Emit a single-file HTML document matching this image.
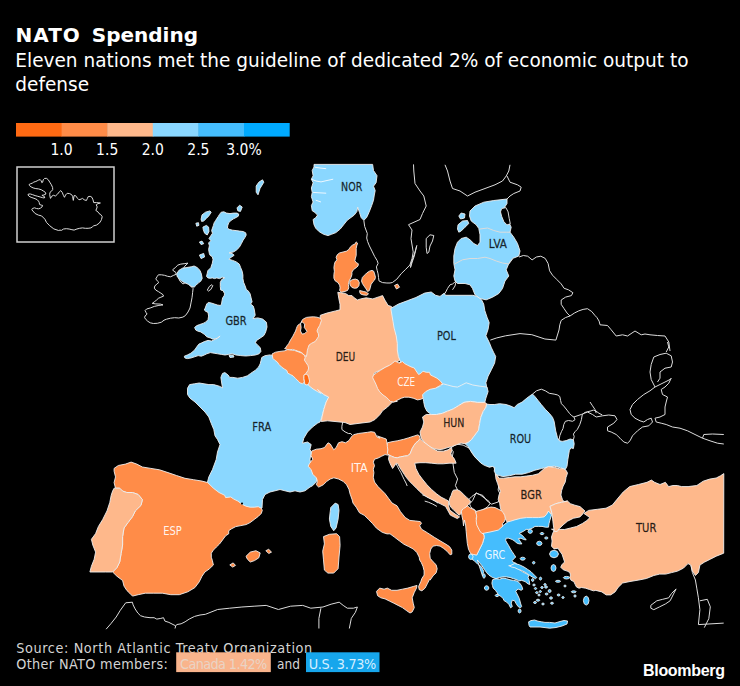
<!DOCTYPE html>
<html><head><meta charset="utf-8"><style>
html,body{margin:0;padding:0;background:#000;}
body{width:740px;height:686px;position:relative;overflow:hidden;}
svg{position:absolute;left:0;top:0;}
.o{fill:none;stroke:#dcdcdc;stroke-width:1;stroke-linejoin:round;}
.c{stroke:#efefef;stroke-width:0.9;stroke-linejoin:round;}
.lab{font-family:"DejaVu Sans Condensed","DejaVu Sans",sans-serif;font-size:11.6px;}
.ld{fill:#000;fill-opacity:0.8;stroke:#000;stroke-opacity:0.6;stroke-width:0.35px;}
.lw{fill:#fff;fill-opacity:0.92;}
.ttl{font-family:"DejaVu Sans",sans-serif;font-weight:bold;font-size:20px;fill:#fff;word-spacing:4px;}
.sub{font-family:"DejaVu Sans",sans-serif;font-size:19.5px;fill:#fff;}
.leg{font-family:"DejaVu Sans Condensed","DejaVu Sans",sans-serif;font-size:15.5px;fill:#fff;}
.src{font-family:"DejaVu Sans Condensed","DejaVu Sans",sans-serif;font-size:14.3px;fill:#d4d4d4;}
.bb{font-family:"Liberation Sans",sans-serif;font-weight:bold;font-size:16px;fill:#fff;letter-spacing:-0.3px;}
</style></head><body>
<svg width="740" height="686" viewBox="0 0 740 686">
<text class="ttl" x="15.5" y="42.4"><tspan letter-spacing="1px">NATO</tspan> Spending</text>
<text class="sub" transform="translate(15.3,66.9) scale(0.95,1)">Eleven nations met the guideline of dedicated 2% of economic output to</text>
<text class="sub" transform="translate(15.3,90.8) scale(0.95,1)">defense</text>
<rect x="16" y="123" width="46.1" height="13.6" fill="#ff6a13"/>
<rect x="61.6" y="123" width="46.1" height="13.6" fill="#ff8c48"/>
<rect x="107.2" y="123" width="46.1" height="13.6" fill="#feb88b"/>
<rect x="152.8" y="123" width="46.1" height="13.6" fill="#8ad7ff"/>
<rect x="198.4" y="123" width="46.1" height="13.6" fill="#45bdfd"/>
<rect x="244" y="123" width="45.7" height="13.6" fill="#00aaff"/>
<text class="leg" x="61.6" y="155" text-anchor="middle">1.0</text>
<text class="leg" x="107.2" y="155" text-anchor="middle">1.5</text>
<text class="leg" x="152.8" y="155" text-anchor="middle">2.0</text>
<text class="leg" x="198.4" y="155" text-anchor="middle">2.5</text>
<text class="leg" x="244" y="155" text-anchor="middle">3.0%</text>
<rect x="17" y="167" width="97" height="75" fill="none" stroke="#cfcfcf" stroke-width="1.5"/>
<path d="M31.8,209.8 L32.4,208.5 L34.5,207.8 L36.5,208.5 L38.5,208.8 L40.5,208.1 L41.9,207.1 L42.6,205.4 L41.2,205.1 L39.5,204.4 L39.2,202.4 L38.5,201.1 L37.2,199.7 L35.1,198.7 L33.1,198.0 L31.1,197.3 L29.1,196.3 L28.0,195.0 L28.4,194.0 L30.4,194.0 L32.4,194.6 L35.1,195.6 L37.8,196.3 L40.2,197.0 L42.6,197.7 L44.3,198.0 L44.9,197.0 L43.2,196.0 L41.9,195.3 L43.9,195.0 L45.9,194.0 L45.3,192.3 L43.2,190.9 L41.2,189.7 L38.5,188.9 L35.8,188.6 L33.1,187.9 L31.1,186.9 L29.4,185.5 L29.1,184.5 L30.4,183.8 L32.4,183.1 L33.8,182.1 L35.8,181.5 L37.2,180.8 L38.5,180.1 L40.2,179.6 L41.2,180.8 L41.9,182.8 L42.7,182.1 L43.2,179.8 L44.6,178.4 L46.6,178.4 L48.3,179.8 L49.7,182.1 L51.4,184.8 L52.6,187.5 L52.7,189.6 L51.4,191.3 L50.0,192.3 L49.7,194.3 L50.1,197.0 L50.5,198.4 L51.7,196.3 L53.4,195.3 L55.4,196.0 L57.4,194.3 L59.5,191.6 L60.8,190.6 L62.2,192.3 L63.5,195.6 L64.5,197.3 L65.5,195.0 L67.2,193.3 L69.6,193.6 L71.6,194.6 L72.6,196.3 L73.3,200.4 L74.1,195.6 L75.5,195.6 L77.6,198.4 L79.0,199.8 L81.1,199.1 L82.5,198.4 L84.2,199.8 L86.4,200.5 L87.4,198.4 L88.1,196.7 L90.2,196.3 L92.0,197.4 L93.0,199.8 L93.7,202.6 L96.5,202.6 L100.4,203.0 L97.9,203.7 L96.2,204.8 L97.2,206.9 L96.5,209.0 L95.8,210.4 L97.9,211.8 L99.0,213.5 L100.8,214.6 L102.2,216.7 L101.5,219.5 L100.8,220.9 L99.4,223.0 L96.5,225.1 L93.7,225.8 L92.3,226.9 L90.9,227.9 L88.1,228.3 L85.3,228.3 L82.5,227.9 L79.7,228.3 L76.9,229.0 L74.1,230.1 L71.9,229.7 L69.1,229.0 L66.3,228.7 L63.5,229.0 L61.4,230.4 L60.0,230.1 L58.6,230.5 L53.8,228.9 L49.7,225.7 L46.5,222.4 L44.9,219.2 L41.6,215.9 L38.4,215.1 L35.1,213.5Z" class="o"/>
<path d="M188.0,263.1 L184.9,263.6 L180.8,264.1 L177.8,265.1 L175.2,267.7 L172.7,269.7 L173.7,271.2 L175.7,272.2 L176.2,274.3 L173.7,275.3 L170.6,276.8 L167.6,276.3 L164.5,275.3 L161.4,274.8 L158.4,274.8 L157.3,276.3 L155.8,278.9 L157.3,280.9 L158.9,282.4 L156.8,284.0 L154.8,286.0 L154.3,288.1 L155.8,290.1 L158.4,291.6 L160.9,293.2 L163.0,294.7 L163.5,296.2 L160.9,297.2 L158.4,298.3 L156.3,300.3 L154.3,301.8 L152.2,303.4 L155.8,303.9 L160.4,304.1 L163.0,304.9 L158.9,305.4 L154.3,306.4 L150.2,308.0 L146.6,309.0 L145.1,310.5 L146.1,312.6 L147.1,314.1 L145.1,315.9 L144.6,317.7 L146.1,319.7 L147.7,321.2 L150.2,322.8 L153.3,323.5 L157.3,323.3 L161.4,322.2 L164.0,320.2 L166.5,319.2 L170.6,318.2 L174.7,317.7 L178.8,318.0 L182.9,317.1 L185.4,315.6 L188.0,312.0 L190.0,308.0 L191.0,302.9 L192.0,297.8 L192.6,292.7 L193.1,288.6 L190.0,285.5 L186.9,281.9 L182.9,284.0 L179.8,280.9 L178.3,277.3 L178.0,274.3 L179.8,271.7 L182.9,269.2 L184.9,266.1Z" class="o"/>
<path d="M207.3,290.1 L209.4,286.4 L211.9,284.7 L212.8,285.7 L210.9,289.4 L208.4,291.1Z" class="o"/>
<path d="M650.8,605.3 L656.8,600.8 L662.7,599.3 L668.7,597.8 L671.6,593.4 L676.1,588.9 L673.1,594.9 L670.1,600.8 L665.7,603.8 L659.7,606.8 L653.8,609.7 L650.8,608.2Z" class="o"/>
<path d="M450.0,448.4 L456.5,444.1 L463.1,445.1 L469.7,448.4 L471.8,452.8 L476.2,458.3 L480.6,462.6 L485.0,463.7 L489.3,467.0 L493.7,465.9 L494.8,470.3 L498.1,476.9 L499.2,483.4 L498.1,490.0 L501.4,496.5 L498.1,502.0 L491.5,504.2 L487.1,500.9 L482.8,495.4 L476.2,493.3 L471.8,496.5 L467.5,500.9 L463.1,498.7 L458.7,492.2 L455.4,485.6 L457.6,479.0 L454.3,472.5 L453.3,465.9 L452.2,457.2 L453.3,451.7Z" class="o"/>
<path d="M469.6,504.0 L472.7,500.4 L476.2,492.8 L480.8,495.3 L484.9,498.4 L489.0,501.4 L490.0,503.5 L488.0,506.5 L484.9,508.6 L480.8,510.6 L477.8,512.7 L475.7,510.6 L472.7,508.6 L470.6,506.5Z" class="o"/>
<path d="M363.8,220.3 L364.7,226.5 L367.3,233.5 L366.7,238.0 L367.6,241.5 L369.4,245.9 L372.0,251.1 L374.6,256.4 L377.2,260.7 L378.1,263.4 L376.4,266.9 L377.2,270.4 L378.1,273.9 L378.5,277.4 L379.0,280.9 L382.5,282.6 L386.9,283.0 L390.0,283.0 L392.4,282.5 L396.8,279.2 L401.2,273.7 L405.6,269.4 L409.9,265.0 L412.1,258.4 L413.2,251.9 L411.0,238.7 L412.0,230.0 L408.5,224.7 L420.0,219.5 L422.5,213.5 L426.2,206.0 L423.8,196.0 L420.0,191.0 L415.0,183.5 L413.8,171.0 L413.5,164.4" class="o"/>
<path d="M426.2,238.5 L430.0,234.8 L433.8,235.5 L432.5,241.0 L430.0,246.0 L428.8,252.2 L427.0,253.5 L426.2,247.2 L426.2,238.5" class="o"/>
<path d="M416.8,245.5 L415.0,252.0 L413.0,258.0 L411.0,264.0 L410.5,267.5 L412.2,262.0 L414.3,256.0 L416.8,245.5" class="o"/>
<path d="M445.0,164.8 L447.5,171.0 L450.0,181.0 L452.5,188.5 L460.0,191.0 L467.5,196.0 L475.0,192.2 L485.0,188.5 L495.0,184.8 L502.5,181.0 L506.2,176.0 L508.8,171.0 L510.0,164.8" class="o"/>
<path d="M507.0,176.0 L510.0,182.2 L517.5,184.8 L521.2,187.2 L520.0,191.0 L513.8,193.5 L510.0,196.0 L507.0,199.0" class="o"/>
<path d="M445.0,293.5 L447.5,288.5 L450.0,284.8 L452.5,284.0 L456.2,281.0 L455.0,286.0 L452.5,289.8" class="o"/>
<path d="M519.0,257.0 L523.3,255.5 L527.7,256.2 L532.1,259.9 L536.4,257.0 L540.8,256.2 L545.2,258.4 L548.1,263.5 L549.6,270.8 L552.5,275.2 L556.9,279.6 L561.2,283.9 L564.1,288.3 L568.5,289.8 L572.9,292.7 L571.4,295.6 L565.6,297.1 L561.2,300.0 L561.2,304.3 L564.1,308.7 L567.1,313.1 L570.0,316.0 L574.3,313.1 L578.7,310.9 L583.1,309.4 L587.5,308.7 L591.8,311.6 L594.8,315.3 L596.9,317.5 L599.1,321.1 L600.0,324.8 L607.5,325.5 L611.2,329.8 L616.2,336.0 L622.5,334.8 L627.5,336.0 L635.0,331.0 L641.2,334.8 L645.0,334.0 L650.0,334.8 L657.5,335.5 L665.0,336.0 L668.8,342.0 L670.0,351.0" class="o"/>
<path d="M490.3,340.1 L496.8,337.9 L505.6,335.8 L520.0,333.6 L531.8,334.7 L544.9,339.0 L555.9,340.1 L559.0,330.0 L559.8,324.8 L561.2,320.4 L565.6,317.5 L570.0,316.0" class="o"/>
<path d="M532.5,394.1 L536.5,390.8 L541.3,389.2 L545.3,390.8 L549.3,393.3 L554.1,394.1 L557.4,394.9 L559.8,396.5 L560.6,400.5 L561.4,403.7 L563.8,406.1 L567.0,410.1 L569.4,413.3 L571.8,415.7 L574.2,417.3 L575.0,419.7 L572.6,421.3 L568.6,420.5 L565.4,421.3 L563.8,424.5 L563.0,428.5 L561.4,431.7 L559.8,435.7 L559.0,440.6" class="o"/>
<path d="M573.4,439.8 L574.2,436.5 L573.4,434.1 L575.0,431.7 L577.4,429.3 L579.8,424.5 L581.4,419.7 L582.2,414.9 L584.6,412.5 L587.8,411.7 L591.0,410.9 L593.4,410.1 L595.8,410.9 L599.0,413.3 L602.3,414.9" class="o"/>
<path d="M573.8,417.0 L581.2,414.5 L587.5,412.0 L592.5,414.5 L596.2,417.0 L602.5,415.8 L608.8,415.0 L615.0,415.8 L617.0,419.5 L613.8,423.2 L607.5,427.0 L607.5,430.8 L611.2,432.0 L616.2,434.5 L620.0,438.2 L623.8,442.0 L627.5,443.2 L630.0,440.8 L632.5,435.8 L637.5,430.8 L642.5,427.0 L648.8,425.8 L652.5,422.0 L651.2,418.2 L647.5,419.5 L643.8,422.0 L640.0,420.8 L635.0,418.2 L631.2,414.5 L630.0,409.5 L632.5,404.5 L637.5,399.5 L643.8,394.5 L650.0,390.8 L655.0,387.0 L660.0,384.5 L665.0,382.0 L670.0,379.5 L671.2,378.2 L668.8,383.2 L665.0,387.0 L661.2,389.5 L662.5,394.5 L667.5,397.0 L666.2,402.0 L665.0,407.0 L665.0,414.5 L660.0,417.0 L655.0,418.2 L656.2,422.0 L661.2,423.2 L666.2,424.5 L672.5,427.0 L680.0,428.2 L687.5,430.8 L695.0,434.5 L702.5,438.2 L710.0,440.8 L717.5,443.2 L723.8,444.0" class="o"/>
<path d="M655.0,387.0 L651.2,379.5 L650.0,372.0 L651.2,364.5 L653.8,357.0 L660.0,354.5 L666.2,353.2 L671.2,355.8 L672.5,362.0 L671.2,367.0 L665.0,368.2 L660.0,372.0 L660.0,378.2 L657.5,382.0" class="o"/>
<path d="M667.5,342.0 L668.8,347.0 L666.2,352.0" class="o"/>
<path d="M702.5,438.2 L703.8,434.5 L712.5,434.0 L723.8,434.5" class="o"/>
<path d="M590.0,402.0 L592.5,405.8 L595.0,409.5 L596.2,413.2" class="o"/>
<path d="M106.1,629.2 L110.8,623.8 L116.2,617.0 L120.3,610.3 L125.7,602.8 L132.4,602.2 L133.1,604.9 L135.1,608.9 L137.8,613.0 L140.5,615.7 L144.6,617.0 L150.0,617.7 L154.1,617.7 L156.8,619.1 L160.8,618.4 L163.5,617.7 L164.9,621.1 L168.9,622.4 L173.0,624.5 L175.7,625.8 L177.0,624.5 L181.1,623.8 L185.1,621.8 L189.2,619.1 L194.6,616.4 L200.0,615.0 L205.4,614.3 L217.6,609.5 L229.7,608.2 L241.9,607.0 L254.1,606.2 L266.2,605.4 L278.4,609.5 L290.5,606.2 L302.7,605.4 L310.8,608.2 L323.0,607.0 L331.1,604.2 L339.2,602.2 L343.2,605.4 L347.3,608.2 L353.4,608.2 L357.4,607.0 L355.4,612.3 L351.3,618.4 L349.3,628.5" class="o"/>
<path d="M175.7,625.8 L175.0,628.5" class="o"/>
<path d="M320.9,608.2 L318.9,618.4 L318.9,628.5" class="o"/>
<path d="M690.9,565.1 L692.4,572.6 L695.4,580.0 L696.9,588.9 L698.4,597.8 L699.9,609.7 L698.4,624.6 L723.7,623.1" class="o"/>
<path d="M699.9,600.8 L707.3,599.3 L710.3,606.8 L708.8,618.7 L704.3,627.6" class="o"/>
<path d="M339.5,419.7 L342.7,422.2 L341.9,426.2 L341.9,429.5 L345.1,431.9 L348.4,433.5 L350.8,433.5 L352.0,435.1" class="o"/>
<path d="M396.1,463.8 L397.6,466.7 L399.2,469.7 L400.9,472.6 L402.5,476.1 L404.2,479.6 L406.0,483.1 L407.2,486.0" class="o"/>
<path d="M422.3,494.8 L425.8,496.2 L429.9,498.0 L434.0,500.3 L438.1,503.2" class="o"/>
<path d="M424.7,501.1 L428.7,502.3 L432.8,504.1 L436.9,506.4" class="o"/>
<path d="M314.0,164.4 L372.6,164.4 L373.5,170.5 L377.0,175.7 L376.1,182.7 L373.5,186.2 L375.2,190.6 L374.3,195.0 L373.5,200.2 L371.7,205.5 L370.0,209.9 L368.2,214.2 L366.5,217.7 L363.8,220.3 L361.2,217.7 L359.5,212.5 L357.7,207.2 L356.9,211.6 L354.2,215.1 L350.7,217.7 L347.2,220.3 L343.7,224.7 L340.2,229.1 L335.9,232.6 L331.5,234.3 L328.0,235.6 L323.6,234.3 L319.2,231.7 L315.7,228.2 L314.0,224.7 L313.1,219.5 L315.7,217.7 L317.5,215.1 L314.9,212.5 L312.2,210.7 L311.4,205.5 L313.1,202.0 L311.4,196.7 L312.2,192.4 L311.4,188.0 L313.1,182.7 L311.4,179.2 L313.1,175.7 L312.2,170.5 L314.0,167.0Z" fill="#8ad7ff" class="c"/>
<path d="M219.5,214.4 L221.2,212.2 L223.9,211.8 L226.5,213.1 L230.0,213.6 L233.5,213.1 L237.0,213.1 L238.7,214.0 L238.3,216.2 L236.1,217.5 L233.5,218.8 L230.9,220.6 L228.7,222.7 L227.8,225.4 L227.4,228.0 L229.1,229.3 L232.6,230.2 L236.1,230.6 L239.6,231.1 L243.1,231.5 L245.7,232.8 L246.2,235.0 L244.9,237.6 L243.1,240.2 L241.4,243.6 L239.3,247.3 L236.3,250.2 L233.4,252.0 L229.1,252.8 L232.7,253.8 L234.2,255.3 L229.8,258.2 L229.1,259.3 L232.7,260.4 L236.3,261.9 L239.3,264.1 L240.7,267.7 L242.2,271.3 L242.9,275.0 L242.9,278.6 L243.6,282.3 L245.1,285.9 L246.5,290.0 L248.1,290.7 L250.1,293.8 L251.1,297.9 L252.1,301.9 L250.6,304.0 L253.2,306.0 L254.2,309.1 L254.7,312.1 L255.2,315.2 L253.0,318.5 L257.8,317.9 L262.7,319.1 L266.4,322.2 L267.0,327.0 L265.7,331.9 L263.9,335.5 L260.3,338.0 L256.6,340.4 L255.4,342.8 L257.8,345.3 L260.3,347.7 L260.9,351.4 L259.1,353.8 L255.4,355.0 L250.5,355.6 L245.7,356.0 L240.8,355.6 L235.9,355.0 L232.3,353.8 L228.6,354.4 L225.0,355.0 L221.4,354.4 L217.7,353.8 L214.1,353.2 L210.4,352.6 L206.8,353.8 L204.3,355.0 L201.3,356.2 L198.2,355.6 L194.6,356.8 L190.9,358.0 L187.3,358.6 L184.9,358.0 L184.3,356.2 L187.3,355.0 L190.9,353.2 L194.6,350.1 L197.0,346.5 L198.9,344.1 L201.9,342.8 L204.3,341.6 L208.0,340.4 L211.6,341.0 L215.3,339.2 L217.7,338.0 L220.1,336.1 L216.5,338.6 L212.8,339.2 L210.4,338.0 L206.8,336.8 L204.3,334.3 L200.7,331.9 L198.2,331.3 L195.8,330.1 L194.6,327.6 L196.4,325.8 L199.5,324.6 L203.1,323.4 L205.5,322.2 L208.0,319.7 L208.6,316.1 L208.0,312.4 L205.5,311.2 L204.3,310.0 L205.2,308.1 L206.7,304.0 L208.3,302.4 L211.3,303.0 L214.4,304.0 L217.4,305.0 L220.5,305.5 L221.5,304.0 L222.0,300.9 L222.6,297.9 L224.1,295.8 L224.6,293.8 L223.1,290.7 L220.7,290.0 L220.3,286.6 L220.3,282.3 L221.8,279.4 L224.7,277.9 L222.5,277.2 L219.6,278.6 L216.7,277.9 L214.5,278.6 L212.3,277.9 L210.1,278.3 L207.9,277.9 L206.5,276.4 L207.2,273.5 L207.9,270.6 L210.8,267.7 L212.3,263.3 L213.0,259.7 L212.3,256.8 L210.1,255.3 L209.4,253.8 L208.6,249.5 L209.4,245.8 L208.6,242.9 L210.8,240.7 L209.0,238.5 L210.7,235.9 L212.5,233.2 L211.6,230.6 L212.5,228.0 L213.4,225.4 L214.2,222.7 L215.6,220.6 L216.9,218.4 L218.2,216.6Z" fill="#8ad7ff" class="c"/>
<path d="M176.6,274.1 L178.8,270.4 L182.5,268.2 L186.9,267.5 L191.2,266.8 L194.1,266.0 L197.1,267.5 L200.0,270.4 L201.4,274.1 L202.2,278.4 L200.7,281.3 L198.5,282.8 L196.3,285.0 L194.1,287.2 L191.2,286.4 L188.3,284.3 L184.7,282.8 L181.7,281.3 L179.6,279.2 L177.4,277.0Z" fill="#8ad7ff" class="c"/>
<path d="M202.0,214.9 L205.5,212.2 L209.9,210.9 L211.2,212.2 L209.0,215.7 L206.4,218.4 L203.7,221.0 L201.6,221.4 L201.1,219.2Z" fill="#8ad7ff" class="c"/>
<path d="M195.9,223.2 L198.5,222.7 L198.9,225.4 L196.7,226.2Z" fill="#8ad7ff" class="c"/>
<path d="M202.9,227.1 L206.4,225.4 L208.6,227.1 L209.0,231.5 L207.2,235.0 L204.6,233.2 L203.3,229.7Z" fill="#8ad7ff" class="c"/>
<path d="M199.4,242.0 L202.0,241.1 L203.7,243.7 L201.1,244.6Z" fill="#8ad7ff" class="c"/>
<path d="M199.4,255.1 L203.7,253.4 L204.6,256.9 L201.1,258.6Z" fill="#8ad7ff" class="c"/>
<path d="M237.0,207.9 L239.6,205.2 L242.2,207.0 L240.5,211.4 L237.9,210.9Z" fill="#8ad7ff" class="c"/>
<path d="M256.2,186.0 L258.8,182.2 L262.5,179.8 L263.8,182.2 L260.0,188.5 L258.0,194.8 L256.2,192.2Z" fill="#8ad7ff" class="c"/>
<path d="M229.0,355.5 L233.0,355.0 L234.0,357.0 L230.0,357.5Z" fill="#8ad7ff" class="c"/>
<path d="M187.5,394.5 L187.5,388.2 L189.6,384.6 L194.4,383.8 L199.2,383.0 L204.1,383.8 L208.9,384.6 L213.7,384.6 L219.3,386.2 L222.5,387.8 L221.7,383.0 L220.9,377.4 L222.5,373.4 L224.9,372.6 L228.1,375.0 L229.7,377.4 L232.9,377.4 L237.7,378.2 L242.5,377.4 L247.4,375.8 L250.6,373.4 L255.4,370.2 L258.6,367.0 L260.2,363.8 L261.0,360.6 L261.8,357.4 L265.0,355.7 L269.8,354.9 L273.0,355.7 L275.0,355.8 L278.8,359.5 L283.8,364.5 L287.5,368.2 L292.5,370.8 L297.5,374.5 L302.5,378.2 L305.0,384.5 L311.2,385.0 L317.5,389.5 L323.8,394.5 L328.8,397.0 L326.2,402.0 L323.8,409.5 L322.0,417.0 L320.0,422.0 L317.5,423.2 L312.5,427.0 L307.5,432.0 L303.8,438.2 L302.5,443.2 L307.5,442.0 L311.2,444.5 L310.0,449.5 L311.2,452.0 L310.0,459.5 L311.2,467.0 L315.0,472.0 L317.5,477.0 L316.2,482.0 L312.5,485.8 L310.0,487.0 L305.0,490.8 L300.0,492.0 L295.0,490.8 L290.0,492.0 L285.0,490.8 L280.0,489.5 L275.0,490.8 L270.0,492.0 L265.0,494.5 L262.5,499.5 L262.0,508.0 L258.0,509.5 L254.0,509.5 L250.0,509.0 L246.0,508.5 L242.0,506.5 L238.0,503.5 L234.0,501.5 L230.0,499.5 L225.5,499.5 L221.0,498.5 L216.0,497.0 L212.0,494.0 L208.0,488.0 L207.5,482.0 L208.8,477.0 L212.5,469.5 L216.2,459.5 L217.5,452.0 L220.0,444.5 L217.5,439.5 L215.0,435.8 L213.8,429.5 L211.2,423.2 L208.8,417.0 L205.0,412.0 L200.0,407.0 L195.0,402.0 L190.0,398.2Z" fill="#8ad7ff" class="c"/>
<path d="M330.8,507.5 L335.2,503.1 L338.1,504.5 L339.0,510.4 L338.1,519.1 L336.1,527.9 L333.7,530.8 L330.8,526.4 L329.4,519.1 L330.2,511.8Z" fill="#8ad7ff" class="c"/>
<path d="M114.1,468.4 L118.3,465.5 L125.4,464.1 L131.1,462.1 L136.8,464.1 L142.4,467.0 L150.9,468.4 L159.5,469.8 L168.0,472.6 L176.5,475.5 L185.0,478.3 L193.5,479.7 L202.0,481.1 L207.7,482.6 L213.4,488.2 L219.0,492.5 L224.7,495.3 L225.6,497.6 L230.7,497.0 L233.8,499.1 L237.9,501.1 L241.9,504.2 L246.0,506.2 L250.1,507.2 L254.2,507.2 L258.3,506.7 L261.3,508.3 L262.3,510.3 L261.3,513.4 L258.3,516.4 L254.2,519.5 L250.1,522.6 L246.0,524.6 L240.9,525.6 L235.8,526.6 L231.7,528.7 L228.7,530.7 L228.7,533.8 L225.6,535.8 L222.6,539.9 L219.5,544.0 L216.4,547.0 L213.4,550.1 L211.3,553.2 L211.3,557.2 L212.3,560.3 L213.4,565.0 L209.1,569.1 L204.9,572.0 L202.0,576.2 L199.2,581.9 L194.9,587.6 L187.8,591.8 L179.3,594.7 L170.8,594.7 L162.3,593.2 L153.8,593.2 L145.3,593.2 L138.2,594.7 L132.5,596.1 L129.7,593.2 L126.8,590.4 L124.0,586.1 L122.6,580.5 L116.9,576.2 L112.6,572.0 L116.9,567.7 L119.7,562.0 L121.1,553.5 L122.6,545.0 L122.6,536.5 L124.0,528.0 L128.2,522.3 L132.5,516.6 L135.3,510.9 L141.0,505.3 L142.4,499.6 L138.2,494.5 L132.5,492.5 L126.8,492.5 L122.6,491.1 L119.7,488.2 L115.5,488.2 L114.1,482.6 L115.5,476.9 L114.1,471.2Z" fill="#ff8c48" class="c"/>
<path d="M246.0,556.3 L250.3,552.1 L255.9,550.7 L260.2,552.9 L258.8,557.8 L254.5,560.6 L250.3,562.0 L247.4,559.2Z" fill="#ff8c48" class="c"/>
<path d="M265.9,550.7 L268.7,549.3 L271.5,552.1 L268.7,553.5Z" fill="#ff8c48" class="c"/>
<path d="M229.8,564.9 L233.2,562.9 L235.5,565.4 L232.7,567.1Z" fill="#ff8c48" class="c"/>
<path d="M114.1,488.2 L119.7,488.2 L122.6,491.1 L126.8,492.5 L132.5,492.5 L138.2,494.5 L142.4,499.6 L141.0,505.3 L135.3,510.9 L132.5,516.6 L128.2,522.3 L124.0,528.0 L122.6,536.5 L122.6,545.0 L121.1,553.5 L119.7,562.0 L116.9,567.7 L112.6,572.0 L105.5,572.0 L97.0,572.0 L89.9,572.0 L91.4,566.3 L94.2,559.2 L95.6,552.1 L92.8,545.0 L91.4,539.3 L95.6,533.6 L98.4,526.5 L102.7,519.5 L107.0,510.9 L109.8,502.4 L111.2,495.3 L112.6,491.1Z" fill="#feb88b" class="c"/>
<path d="M311.7,451.0 L316.3,449.2 L321.0,448.7 L324.5,447.5 L328.0,442.8 L330.3,444.0 L333.8,449.8 L336.2,447.5 L338.5,442.8 L342.0,441.7 L345.5,442.8 L349.0,440.5 L351.3,437.0 L353.6,434.7 L358.3,433.5 L363.0,432.9 L367.6,432.3 L371.1,431.7 L374.6,432.3 L377.0,437.0 L380.0,438.2 L377.5,436.0 L386.2,439.0 L387.7,446.2 L388.5,455.2 L385.0,454.6 L381.5,456.3 L378.0,458.1 L374.5,459.2 L373.3,462.2 L374.5,465.7 L373.3,469.2 L373.9,472.7 L373.3,477.3 L374.5,482.0 L378.0,486.6 L381.5,490.1 L385.0,493.6 L388.5,498.3 L392.0,503.0 L397.0,505.8 L400.5,511.7 L405.2,517.5 L409.8,520.4 L415.7,521.0 L420.3,521.6 L421.5,523.3 L419.7,525.7 L421.5,529.2 L427.3,532.7 L434.3,537.3 L440.1,540.8 L446.0,544.3 L449.5,546.6 L451.8,550.1 L451.8,554.2 L450.1,554.8 L447.1,551.3 L443.6,548.4 L440.1,546.1 L436.6,545.5 L433.1,546.1 L430.8,549.0 L429.7,553.6 L430.2,558.3 L433.1,561.8 L436.1,564.7 L437.2,568.8 L436.1,572.9 L433.1,575.8 L430.2,580.0 L429.5,579.5 L427.3,583.8 L425.1,588.1 L421.9,590.8 L419.2,589.7 L418.6,586.5 L420.8,581.6 L421.9,578.4 L424.1,575.1 L424.1,570.8 L423.0,566.5 L421.4,562.7 L419.7,560.0 L419.2,557.1 L416.8,552.5 L413.3,549.0 L408.7,546.6 L404.0,544.3 L399.3,540.8 L394.7,537.3 L390.0,533.8 L387.0,533.9 L382.2,532.3 L376.5,528.2 L372.4,523.4 L368.4,519.3 L364.3,515.3 L359.5,512.8 L356.2,507.2 L353.0,503.1 L352.2,499.9 L350.5,495.0 L350.1,494.1 L349.0,489.5 L346.6,484.8 L343.1,481.3 L338.5,479.0 L333.8,477.8 L330.3,479.0 L326.8,481.3 L323.3,484.8 L318.7,487.1 L316.3,484.8 L317.5,481.3 L316.3,477.8 L312.8,474.3 L311.1,469.7 L308.2,466.2 L309.3,463.8 L312.8,459.2 L311.1,455.7Z" fill="#ff8c48" class="c"/>
<path d="M376.5,591.4 L379.7,588.1 L384.1,589.2 L387.3,588.1 L391.6,590.3 L397.0,590.3 L402.4,589.2 L407.8,588.1 L413.2,586.5 L417.0,585.4 L416.5,588.1 L414.3,592.4 L412.2,597.8 L413.2,603.2 L414.3,607.6 L412.2,611.9 L410.0,613.0 L406.8,610.8 L402.4,607.6 L398.1,605.4 L393.8,603.2 L389.5,601.1 L385.1,598.9 L380.8,597.8 L377.6,595.7Z" fill="#ff8c48" class="c"/>
<path d="M323.5,536.6 L329.4,534.3 L336.6,533.7 L339.6,536.6 L340.1,545.4 L339.0,557.0 L338.1,568.7 L333.7,573.1 L327.9,573.1 L324.4,570.1 L323.5,559.9 L322.7,551.2 L324.4,543.9Z" fill="#ff8c48" class="c"/>
<path d="M337.8,292.3 L345.4,293.4 L348.7,295.6 L352.0,295.6 L354.2,297.8 L357.5,300.0 L360.7,298.9 L366.2,297.8 L372.8,298.9 L379.3,296.7 L382.6,295.6 L384.8,300.0 L388.1,305.4 L391.4,306.5 L394.6,310.9 L395.7,316.4 L396.8,321.8 L396.8,327.3 L395.7,332.8 L397.9,339.3 L399.0,343.7 L400.1,349.2 L399.0,354.6 L401.2,359.0 L394.1,364.2 L387.5,366.4 L380.9,369.7 L374.4,372.9 L373.3,376.2 L375.5,380.6 L377.7,385.0 L380.9,389.3 L384.2,392.6 L388.6,397.0 L393.0,399.2 L397.3,401.4 L392.5,402.0 L387.5,407.0 L382.5,410.8 L380.0,414.5 L375.0,419.5 L370.0,422.0 L360.0,423.2 L350.0,424.5 L345.0,422.5 L335.0,421.5 L327.5,420.8 L321.2,421.5 L322.0,417.0 L323.8,409.5 L326.2,402.0 L328.8,397.0 L323.8,394.5 L317.5,389.5 L321.0,393.4 L317.5,391.6 L313.1,389.0 L308.7,385.5 L306.0,377.0 L302.0,370.0 L296.0,362.0 L293.0,356.0 L297.0,349.0 L303.0,344.0 L308.0,336.0 L313.0,328.0 L317.0,322.0 L320.0,319.5 L320.3,315.3 L326.9,313.1 L335.6,310.9 L340.0,309.8 L340.0,304.3 L338.9,298.9Z" fill="#feb88b" class="c"/>
<path d="M356.2,241.9 L354.9,244.1 L352.7,245.0 L350.6,246.7 L348.8,249.4 L346.6,251.1 L343.1,252.0 L339.6,252.9 L337.4,254.6 L336.1,257.2 L337.0,259.9 L335.2,261.6 L334.4,264.2 L333.9,267.7 L334.4,271.2 L333.9,274.7 L333.9,278.2 L335.2,280.9 L337.9,282.6 L339.6,285.2 L340.1,287.9 L339.6,290.5 L341.4,292.2 L344.9,291.4 L347.5,290.5 L348.8,287.9 L348.4,284.4 L349.2,280.9 L351.0,277.4 L351.9,274.7 L351.9,272.1 L353.6,269.5 L356.2,267.7 L358.0,266.0 L358.4,263.8 L356.2,262.5 L354.9,260.7 L355.4,258.1 L356.2,255.5 L356.2,252.0 L356.2,248.5 L356.7,245.9 L357.6,243.2Z" fill="#ff8c48" class="c"/>
<path d="M350.1,280.9 L352.7,279.5 L355.4,279.1 L358.0,280.0 L359.3,282.6 L358.9,285.7 L357.1,287.9 L354.5,288.3 L351.9,287.4 L350.1,285.2 L349.7,282.6Z" fill="#ff8c48" class="c"/>
<path d="M362.4,277.4 L365.0,274.7 L366.7,273.0 L369.4,271.2 L372.0,270.4 L373.7,271.2 L374.6,273.9 L375.5,277.4 L374.6,280.0 L372.9,281.7 L371.1,284.4 L370.2,287.9 L369.4,290.5 L367.6,291.4 L365.9,288.7 L364.1,286.1 L362.4,283.5 L361.5,280.9Z" fill="#ff8c48" class="c"/>
<path d="M359.7,290.5 L363.2,291.4 L366.7,292.2 L368.5,294.0 L366.7,295.3 L363.2,294.9 L360.6,294.0 L359.7,292.2Z" fill="#ff8c48" class="c"/>
<path d="M394.5,285.5 L397.5,284.0 L399.5,287.2 L396.5,289.0Z" fill="#ff8c48" class="c"/>
<path d="M298.2,324.9 L299.5,324.0 L300.8,324.4 L301.2,322.2 L302.5,319.6 L303.9,318.7 L306.5,317.4 L310.0,317.0 L313.5,316.8 L317.0,317.2 L320.5,318.3 L321.4,320.5 L320.5,323.1 L319.6,325.7 L317.9,328.4 L317.0,331.0 L318.3,333.6 L318.7,336.2 L317.0,338.9 L315.2,341.5 L311.7,343.2 L309.1,345.0 L308.2,347.6 L307.4,350.2 L306.9,353.7 L306.5,356.4 L304.7,355.5 L303.0,353.7 L300.4,352.0 L297.7,351.1 L295.1,350.2 L292.5,349.4 L289.9,349.8 L287.2,349.4 L284.6,348.5 L285.5,348.0 L286.8,345.9 L288.6,343.7 L289.9,341.1 L291.2,338.9 L292.9,336.2 L294.2,333.6 L295.6,331.0 L296.4,328.4 L297.3,326.2Z" fill="#ff8c48" class="c"/>
<path d="M272.0,354.0 L275.5,352.2 L279.9,351.4 L284.2,350.9 L287.7,349.6 L291.2,350.1 L294.7,350.5 L298.2,351.8 L301.7,353.1 L304.4,355.3 L305.2,357.5 L304.4,360.1 L306.1,362.7 L307.9,365.4 L308.7,368.0 L307.9,370.6 L306.1,373.2 L304.4,375.0 L303.9,378.5 L304.4,382.0 L302.6,383.7 L300.0,382.9 L298.2,381.1 L295.6,378.5 L293.0,375.9 L290.4,374.5 L287.7,373.2 L286.9,370.6 L284.2,368.9 L281.6,367.1 L279.0,364.5 L277.2,361.9 L274.6,360.1 L272.9,358.4Z" fill="#ff8c48" class="c"/>
<path d="M303.9,375.0 L306.1,374.1 L307.9,375.0 L308.7,377.6 L309.6,381.1 L308.7,383.7 L307.0,385.0 L304.8,384.2 L304.4,381.1 L303.9,378.5Z" fill="#ff6a13" class="c"/>
<path d="M390.8,308.4 L398.4,304.1 L407.2,300.8 L415.9,297.5 L424.7,293.1 L431.2,292.0 L435.6,295.3 L440.0,296.4 L444.3,293.1 L445.4,295.3 L472.8,295.3 L477.1,296.4 L481.5,299.7 L483.7,304.1 L484.8,310.6 L487.0,317.2 L489.2,322.6 L488.1,329.2 L485.9,335.8 L489.2,342.3 L491.4,347.8 L493.5,352.2 L495.7,356.5 L494.6,363.1 L491.4,369.7 L488.1,376.2 L485.9,382.8 L487.0,388.7 L479.3,387.6 L472.8,386.5 L466.2,384.3 L461.8,386.5 L457.5,388.7 L453.1,387.6 L447.6,386.5 L444.3,385.4 L441.5,384.5 L438.0,381.5 L433.0,379.5 L428.0,375.5 L422.0,376.5 L418.0,377.5 L415.0,372.5 L410.0,369.5 L404.0,366.5 L400.0,364.5 L398.0,363.5 L400.6,362.0 L398.4,356.5 L397.3,350.0 L397.3,343.4 L396.2,335.8 L394.1,328.1 L393.0,321.5 L391.9,315.0Z" fill="#8ad7ff" class="c"/>
<path d="M373.2,375.5 L376.5,372.8 L380.8,370.1 L385.1,367.4 L389.5,365.3 L392.7,363.1 L394.9,360.9 L397.0,362.0 L399.2,363.1 L402.4,361.5 L404.6,363.6 L407.8,365.3 L411.1,366.9 L414.3,368.0 L415.9,370.7 L418.6,374.5 L420.8,373.4 L423.0,371.2 L426.2,372.3 L429.5,372.3 L430.5,375.0 L433.8,376.6 L437.0,378.2 L440.3,380.9 L442.4,383.6 L440.3,385.3 L437.0,387.4 L433.8,389.6 L430.5,391.8 L427.3,393.9 L425.1,396.1 L423.0,398.2 L420.8,399.3 L417.6,399.9 L413.2,398.2 L408.9,397.2 L404.6,397.2 L401.4,398.2 L397.0,400.4 L393.8,402.0 L390.5,401.5 L388.4,399.3 L386.2,397.2 L383.0,395.0 L379.7,391.8 L377.6,388.5 L375.9,384.2 L374.3,380.9 L372.7,377.7Z" fill="#ff8c48" class="c"/>
<path d="M422.5,394.8 L425.8,391.5 L430.1,389.3 L435.6,388.2 L440.0,386.1 L443.3,383.9 L447.6,385.0 L453.1,386.5 L457.5,387.1 L461.8,385.0 L466.2,382.8 L472.8,385.0 L479.3,386.1 L487.0,387.1 L488.1,391.5 L485.9,398.1 L484.8,402.4 L477.1,402.4 L470.6,401.4 L464.0,402.4 L458.6,405.7 L453.1,409.0 L447.6,411.2 L442.2,413.4 L436.7,414.5 L431.2,414.5 L426.9,411.2 L424.7,406.8 L423.6,401.4Z" fill="#8ad7ff" class="c"/>
<path d="M426.2,414.5 L431.2,414.5 L436.7,414.5 L442.2,413.4 L447.6,411.2 L453.1,409.0 L458.6,405.7 L464.0,402.4 L470.6,401.4 L477.1,402.4 L484.8,402.4 L486.6,403.5 L486.1,407.0 L483.1,411.7 L480.8,417.5 L479.7,423.3 L478.5,430.3 L475.0,435.0 L471.5,439.7 L468.0,442.6 L465.1,443.7 L461.0,443.1 L456.3,444.9 L451.7,446.6 L447.0,447.8 L443.5,449.0 L440.0,449.6 L435.0,449.0 L430.0,447.0 L425.0,443.2 L421.2,438.2 L420.0,432.0 L422.5,427.0 L423.8,422.0 L422.5,417.0Z" fill="#feb88b" class="c"/>
<path d="M490.0,404.5 L494.8,404.5 L499.6,403.7 L506.0,404.5 L510.8,406.1 L514.1,407.7 L517.3,404.5 L522.1,402.1 L526.9,398.1 L530.1,395.7 L532.5,394.1 L534.9,396.5 L538.1,400.5 L541.3,404.5 L545.3,409.3 L549.3,413.3 L552.5,417.3 L554.1,421.3 L554.9,426.1 L555.7,430.9 L557.4,437.4 L559.0,440.6 L562.2,441.4 L566.2,440.6 L570.2,439.0 L573.4,439.8 L574.2,443.8 L573.4,448.6 L571.0,447.8 L569.4,450.2 L568.6,455.0 L567.8,459.8 L567.0,466.2 L565.4,469.4 L560.6,467.8 L554.1,466.2 L547.7,467.0 L541.3,468.6 L534.9,470.2 L528.5,472.6 L522.1,474.2 L515.7,474.2 L509.2,475.8 L502.8,476.6 L496.0,474.6 L494.2,471.1 L494.8,467.6 L492.5,466.5 L489.0,467.1 L484.3,465.3 L480.8,463.0 L478.5,460.6 L475.0,457.1 L472.7,453.6 L470.3,450.1 L468.0,446.6 L465.1,443.7 L468.0,442.6 L471.5,439.7 L475.0,435.0 L478.5,430.3 L479.7,423.3 L480.8,417.5 L483.1,411.7 L486.1,407.0 L486.6,404.1Z" fill="#8ad7ff" class="c"/>
<path d="M476.7,555.0 L479.0,550.3 L482.5,543.3 L484.2,537.5 L483.7,534.0 L483.0,532.0 L490.0,530.0 L498.0,528.0 L503.0,525.5 L507.0,522.5 L510.0,520.0 L515.0,518.5 L520.8,517.0 L526.6,516.5 L532.5,516.5 L538.3,516.5 L544.1,516.0 L546.3,514.0 L548.5,511.0 L551.6,515.0 L549.9,520.2 L549.0,523.7 L548.5,527.2 L545.5,527.2 L542.0,526.4 L538.5,526.4 L535.0,526.4 L532.4,528.1 L528.9,529.4 L526.2,529.4 L523.6,531.2 L521.0,532.5 L519.2,533.4 L521.9,535.1 L524.5,537.7 L526.2,539.9 L523.6,539.5 L521.0,538.2 L518.4,538.6 L520.1,541.2 L521.9,543.9 L519.2,543.9 L516.6,543.0 L514.9,541.2 L512.2,539.5 L508.7,538.2 L506.1,538.2 L505.7,540.4 L507.0,543.0 L508.7,545.6 L510.5,549.1 L512.2,551.7 L514.0,554.4 L515.7,557.0 L514.0,558.7 L512.2,560.5 L513.1,562.2 L515.7,563.1 L517.5,564.9 L513.1,565.3 L508.7,565.7 L513.1,566.6 L517.5,568.4 L520.1,570.1 L522.7,571.9 L526.2,573.6 L528.9,575.0 L528.1,577.5 L529.2,580.4 L529.8,584.5 L528.1,583.9 L525.1,581.6 L521.6,580.4 L518.7,581.0 L517.0,579.8 L513.5,578.7 L510.0,577.5 L506.5,576.9 L503.0,576.9 L499.5,577.5 L496.0,578.7 L492.5,577.5 L489.0,575.2 L486.7,572.8 L484.3,569.3 L482.0,565.8 L479.7,562.9 L477.3,560.0 L482.5,576.0 L483.7,571.3 L481.3,566.6 L477.8,564.3 L474.3,560.8 L470.8,558.5 L469.7,555.0 L472.0,553.8Z" fill="#45bdfd" class="c"/>
<path d="M492.5,579.8 L496.0,578.7 L499.5,579.2 L503.0,578.1 L506.5,578.7 L510.0,579.8 L513.5,580.4 L517.0,581.0 L519.3,582.7 L521.6,585.7 L522.8,589.2 L521.1,590.3 L518.7,589.2 L517.0,589.7 L515.8,591.5 L517.6,595.0 L519.3,598.5 L520.5,603.1 L521.6,606.6 L520.5,607.8 L518.1,606.6 L515.8,603.1 L514.7,600.8 L512.3,600.2 L511.2,603.1 L512.3,606.6 L510.6,607.8 L508.8,604.3 L506.5,602.0 L504.2,600.8 L503.0,598.5 L500.7,596.2 L498.3,595.0 L497.2,592.7 L495.4,590.3 L493.1,588.0 L492.5,585.7 L491.9,583.3Z" fill="#45bdfd" class="c"/>
<path d="M510.0,565.8 L514.7,563.5 L519.3,564.7 L524.0,567.0 L527.5,569.3 L531.0,571.7 L534.5,575.2 L536.8,577.5 L535.6,578.7 L532.1,576.9 L528.6,574.6 L525.1,572.2 L521.6,570.5 L518.1,569.3 L514.7,567.6 L511.2,567.0Z" fill="#45bdfd" class="c"/>
<path d="M528.6,621.8 L531.0,620.6 L534.5,620.0 L538.0,621.2 L541.5,621.8 L545.0,622.4 L549.6,622.4 L555.0,623.0 L560.0,621.5 L564.0,620.5 L567.6,621.0 L567.0,624.0 L562.0,626.0 L556.0,627.5 L549.6,628.2 L545.0,627.6 L540.0,627.0 L535.0,627.0 L530.0,627.0 L529.0,625.3Z" fill="#45bdfd" class="c"/>
<path d="M532.4,531.4 L531.8,532.8 L530.2,533.4 L528.6,532.8 L528.0,531.4 L528.6,530.0 L530.2,529.4 L531.8,530.0Z" fill="#45bdfd" class="c"/>
<path d="M543.8,533.6 L543.3,534.4 L542.0,534.7 L540.7,534.4 L540.2,533.6 L540.7,532.8 L542.0,532.5 L543.3,532.8Z" fill="#45bdfd" class="c"/>
<path d="M542.0,543.4 L541.2,545.0 L539.3,545.6 L537.4,545.0 L536.6,543.4 L537.4,541.8 L539.3,541.2 L541.2,541.8Z" fill="#45bdfd" class="c"/>
<path d="M548.0,538.0 L547.5,538.8 L546.3,539.1 L545.1,538.8 L544.6,538.0 L545.1,537.2 L546.3,536.9 L547.5,537.2Z" fill="#45bdfd" class="c"/>
<path d="M525.3,558.7 L524.5,559.8 L522.7,560.2 L520.9,559.8 L520.1,558.7 L520.9,557.6 L522.7,557.2 L524.5,557.6Z" fill="#45bdfd" class="c"/>
<path d="M535.0,562.7 L534.6,563.6 L533.7,564.0 L532.8,563.6 L532.4,562.7 L532.8,561.8 L533.7,561.4 L534.6,561.8Z" fill="#45bdfd" class="c"/>
<path d="M558.5,554.0 L557.2,556.7 L554.0,557.8 L550.8,556.7 L549.5,554.0 L550.8,551.3 L554.0,550.2 L557.2,551.3Z" fill="#45bdfd" class="c"/>
<path d="M556.0,568.0 L555.3,570.5 L553.5,571.5 L551.7,570.5 L551.0,568.0 L551.7,565.5 L553.5,564.5 L555.3,565.5Z" fill="#45bdfd" class="c"/>
<path d="M569.7,577.7 L568.8,578.6 L566.5,579.0 L564.2,578.6 L563.3,577.7 L564.2,576.8 L566.5,576.4 L568.8,576.8Z" fill="#45bdfd" class="c"/>
<path d="M560.6,581.3 L559.8,582.0 L558.0,582.3 L556.2,582.0 L555.4,581.3 L556.2,580.6 L558.0,580.3 L559.8,580.6Z" fill="#45bdfd" class="c"/>
<path d="M589.0,600.6 L588.2,603.8 L586.2,605.1 L584.2,603.8 L583.4,600.6 L584.2,597.4 L586.2,596.1 L588.2,597.4Z" fill="#45bdfd" class="c"/>
<path d="M576.2,591.8 L575.5,592.5 L573.7,592.8 L571.9,592.5 L571.2,591.8 L571.9,591.1 L573.7,590.8 L575.5,591.1Z" fill="#45bdfd" class="c"/>
<path d="M473.1,556.7 L472.4,558.7 L470.8,559.5 L469.2,558.7 L468.5,556.7 L469.2,554.7 L470.8,553.9 L472.4,554.7Z" fill="#45bdfd" class="c"/>
<path d="M488.9,588.0 L488.2,589.6 L486.6,590.3 L485.0,589.6 L484.3,588.0 L485.0,586.4 L486.6,585.7 L488.2,586.4Z" fill="#45bdfd" class="c"/>
<path d="M485.3,576.0 L484.9,577.6 L484.0,578.3 L483.1,577.6 L482.7,576.0 L483.1,574.4 L484.0,573.7 L484.9,574.4Z" fill="#45bdfd" class="c"/>
<path d="M498.8,595.5 L498.3,596.3 L497.0,596.7 L495.7,596.3 L495.2,595.5 L495.7,594.7 L497.0,594.3 L498.3,594.7Z" fill="#45bdfd" class="c"/>
<path d="M521.1,611.0 L520.7,612.4 L519.6,613.0 L518.5,612.4 L518.1,611.0 L518.5,609.6 L519.6,609.0 L520.7,609.6Z" fill="#45bdfd" class="c"/>
<path d="M535.3,585.0 L534.9,585.7 L534.0,586.0 L533.1,585.7 L532.7,585.0 L533.1,584.3 L534.0,584.0 L534.9,584.3Z" fill="#45bdfd" class="c"/>
<path d="M536.7,588.5 L536.3,589.2 L535.5,589.5 L534.7,589.2 L534.3,588.5 L534.7,587.8 L535.5,587.5 L536.3,587.8Z" fill="#45bdfd" class="c"/>
<path d="M538.1,592.6 L537.7,593.3 L536.8,593.6 L535.9,593.3 L535.5,592.6 L535.9,591.9 L536.8,591.6 L537.7,591.9Z" fill="#45bdfd" class="c"/>
<path d="M540.2,595.0 L539.8,595.7 L539.0,596.0 L538.2,595.7 L537.8,595.0 L538.2,594.3 L539.0,594.0 L539.8,594.3Z" fill="#45bdfd" class="c"/>
<path d="M541.5,591.5 L541.1,592.2 L540.3,592.5 L539.5,592.2 L539.1,591.5 L539.5,590.8 L540.3,590.5 L541.1,590.8Z" fill="#45bdfd" class="c"/>
<path d="M543.3,587.5 L542.9,588.2 L542.0,588.5 L541.1,588.2 L540.7,587.5 L541.1,586.8 L542.0,586.5 L542.9,586.8Z" fill="#45bdfd" class="c"/>
<path d="M547.5,587.0 L547.1,587.8 L546.0,588.2 L544.9,587.8 L544.5,587.0 L544.9,586.2 L546.0,585.8 L547.1,586.2Z" fill="#45bdfd" class="c"/>
<path d="M551.1,591.0 L550.7,592.1 L549.6,592.5 L548.5,592.1 L548.1,591.0 L548.5,589.9 L549.6,589.5 L550.7,589.9Z" fill="#45bdfd" class="c"/>
<path d="M548.1,594.0 L547.7,594.7 L546.6,595.0 L545.5,594.7 L545.1,594.0 L545.5,593.3 L546.6,593.0 L547.7,593.3Z" fill="#45bdfd" class="c"/>
<path d="M552.5,598.0 L552.1,598.8 L551.0,599.2 L549.9,598.8 L549.5,598.0 L549.9,597.2 L551.0,596.8 L552.1,597.2Z" fill="#45bdfd" class="c"/>
<path d="M553.5,603.2 L553.1,603.9 L552.0,604.2 L550.9,603.9 L550.5,603.2 L550.9,602.5 L552.0,602.2 L553.1,602.5Z" fill="#45bdfd" class="c"/>
<path d="M539.8,600.2 L539.3,600.9 L538.0,601.2 L536.7,600.9 L536.2,600.2 L536.7,599.5 L538.0,599.2 L539.3,599.5Z" fill="#45bdfd" class="c"/>
<path d="M533.9,580.0 L533.5,581.1 L532.7,581.5 L531.9,581.1 L531.5,580.0 L531.9,578.9 L532.7,578.5 L533.5,578.9Z" fill="#45bdfd" class="c"/>
<path d="M541.7,578.6 L541.3,579.7 L540.5,580.1 L539.7,579.7 L539.3,578.6 L539.7,577.5 L540.5,577.1 L541.3,577.5Z" fill="#45bdfd" class="c"/>
<path d="M546.2,584.5 L545.8,585.2 L545.0,585.5 L544.2,585.2 L543.8,584.5 L544.2,583.8 L545.0,583.5 L545.8,583.8Z" fill="#45bdfd" class="c"/>
<path d="M536.5,602.5 L536.1,603.2 L535.0,603.5 L533.9,603.2 L533.5,602.5 L533.9,601.8 L535.0,601.5 L536.1,601.8Z" fill="#45bdfd" class="c"/>
<path d="M544.3,604.0 L543.9,604.7 L543.0,605.0 L542.1,604.7 L541.7,604.0 L542.1,603.3 L543.0,603.0 L543.9,603.3Z" fill="#45bdfd" class="c"/>
<path d="M560.1,595.0 L559.7,595.7 L558.6,596.0 L557.5,595.7 L557.1,595.0 L557.5,594.3 L558.6,594.0 L559.7,594.3Z" fill="#45bdfd" class="c"/>
<path d="M564.2,597.5 L563.8,598.2 L563.0,598.5 L562.2,598.2 L561.8,597.5 L562.2,596.8 L563.0,596.5 L563.8,596.8Z" fill="#45bdfd" class="c"/>
<path d="M566.2,586.0 L565.8,586.7 L565.0,587.0 L564.2,586.7 L563.8,586.0 L564.2,585.3 L565.0,585.0 L565.8,585.3Z" fill="#45bdfd" class="c"/>
<path d="M576.2,596.0 L575.8,596.8 L575.0,597.2 L574.2,596.8 L573.8,596.0 L574.2,595.2 L575.0,594.8 L575.8,595.2Z" fill="#45bdfd" class="c"/>
<path d="M495.3,473.8 L499.0,478.2 L503.3,478.2 L509.2,477.5 L515.0,476.8 L520.8,476.8 L526.6,476.0 L532.5,475.3 L538.3,473.8 L544.1,468.7 L548.5,466.6 L554.3,467.3 L559.4,468.7 L563.1,468.7 L566.0,470.2 L567.5,473.1 L566.0,477.5 L565.3,481.9 L563.1,486.2 L561.6,490.6 L560.9,495.0 L562.4,499.4 L563.8,501.5 L567.5,501.1 L561.6,502.3 L555.8,503.7 L550.0,506.4 L551.4,511.0 L552.2,514.7 L548.5,511.0 L546.3,514.7 L544.1,516.9 L538.3,517.6 L532.5,517.6 L526.6,517.6 L520.8,518.3 L515.0,519.8 L510.6,521.2 L507.0,522.0 L504.8,517.6 L501.9,512.5 L500.4,508.1 L499.7,503.7 L498.2,499.4 L499.0,495.0 L500.4,491.3 L499.0,487.7 L497.5,483.3 L496.0,479.0Z" fill="#feb88b" class="c"/>
<path d="M584.0,513.5 L588.6,510.4 L597.3,509.3 L606.0,508.2 L612.4,505.0 L616.8,499.6 L623.2,492.0 L629.7,486.6 L638.4,484.5 L647.0,482.3 L651.4,480.1 L654.6,482.3 L660.0,484.5 L665.4,482.3 L668.6,486.6 L673.0,485.5 L677.3,485.5 L681.6,486.6 L688.1,486.6 L696.8,485.5 L703.2,481.2 L709.7,479.1 L716.2,478.0 L720.5,475.8 L723.8,473.6 L723.7,553.2 L716.2,556.2 L710.3,559.2 L704.3,562.2 L699.9,565.1 L698.4,572.6 L695.4,575.5 L692.4,571.1 L690.9,565.1 L688.0,563.6 L683.5,568.1 L677.6,571.1 L671.6,572.6 L665.7,574.1 L659.7,574.1 L653.8,575.5 L646.4,578.5 L638.9,580.0 L630.0,581.5 L622.6,583.0 L618.1,587.4 L615.1,591.9 L610.7,594.9 L606.2,594.9 L601.8,591.9 L595.8,590.4 L593.4,590.8 L589.5,589.5 L585.6,588.2 L581.6,587.5 L579.0,588.2 L576.4,586.9 L575.1,584.3 L573.8,581.6 L571.1,580.3 L569.8,577.7 L570.5,575.1 L569.8,572.5 L567.2,571.1 L563.3,569.8 L560.7,567.2 L562.0,564.6 L564.6,562.0 L563.3,558.0 L562.0,554.1 L560.0,551.5 L558.0,548.2 L554.1,548.9 L551.5,546.2 L552.1,541.0 L551.5,537.0 L552.8,533.1 L554.1,530.5 L551.5,529.2 L564.6,529.5 L570.5,528.0 L576.5,526.5 L582.4,523.5 L586.9,520.5 L589.9,517.6Z" fill="#feb88b" class="c"/>
<path d="M550.0,506.4 L555.8,503.7 L561.6,502.3 L567.5,501.1 L570.4,503.7 L574.8,505.2 L580.0,506.6 L585.0,511.0 L582.8,513.9 L580.0,516.9 L573.3,518.3 L567.5,521.2 L563.1,524.9 L559.4,528.5 L557.3,531.4 L554.3,531.4 L553.6,527.1 L552.9,521.2 L552.2,514.7 L551.4,511.0Z" fill="#feb88b" class="c"/>
<path d="M464.5,506.0 L467.0,505.5 L469.6,507.6 L472.7,509.1 L475.2,510.6 L476.7,514.7 L476.2,518.8 L477.8,522.9 L479.8,528.0 L481.8,532.0 L483.9,535.1 L484.2,537.5 L482.5,543.3 L479.0,550.3 L476.7,555.0 L473.5,554.5 L470.8,553.8 L468.5,549.2 L467.3,543.3 L466.2,531.7 L465.6,525.0 L464.5,520.0 L463.5,525.9 L463.0,520.8 L461.9,515.7 L461.4,511.6 L462.4,508.6Z" fill="#ff8c48" class="c"/>
<path d="M475.7,511.6 L478.8,510.6 L482.9,509.6 L486.9,508.1 L491.0,507.0 L495.1,507.6 L498.2,509.1 L501.2,510.6 L503.3,512.7 L504.8,515.7 L505.3,518.8 L504.3,521.8 L502.2,523.9 L503.0,526.0 L498.3,530.1 L490.0,532.0 L482.0,533.6 L479.8,531.0 L478.3,528.0 L476.7,524.9 L476.2,520.8 L476.7,516.7 L476.2,513.7Z" fill="#ff8c48" class="c"/>
<path d="M453.3,490.2 L457.3,489.7 L460.4,491.2 L463.5,494.3 L466.5,497.3 L469.6,499.9 L470.6,501.9 L468.6,504.5 L466.0,507.0 L463.5,508.6 L461.4,510.6 L460.9,513.7 L459.4,515.2 L457.3,513.7 L455.3,511.6 L453.3,509.6 L451.2,507.6 L449.7,505.0 L449.2,501.9 L449.7,498.4 L451.2,495.3 L452.2,492.2Z" fill="#feb88b" class="c"/>
<path d="M387.3,442.8 L392.0,441.7 L397.8,440.7 L403.7,439.3 L408.3,437.9 L413.0,436.4 L417.7,434.9 L419.4,435.8 L420.0,438.7 L418.2,441.1 L415.9,442.8 L414.2,445.2 L412.4,448.1 L411.2,451.0 L410.1,453.9 L407.7,455.7 L404.2,456.2 L400.7,456.8 L397.2,457.8 L394.3,457.4 L391.4,456.2 L389.1,455.1 L387.3,453.3 L387.9,449.8 L387.3,446.3Z" fill="#ff8c48" class="c"/>
<path d="M420.0,438.7 L423.5,441.7 L428.1,445.2 L432.8,448.7 L437.5,451.0 L443.3,451.2 L448.0,449.8 L451.5,447.5 L452.1,450.4 L450.9,453.3 L451.5,455.7 L453.8,458.0 L455.0,460.3 L456.1,463.2 L449.1,463.2 L443.3,463.8 L437.5,463.8 L431.6,463.2 L425.8,462.7 L420.0,462.7 L414.7,463.2 L415.9,468.5 L418.8,474.3 L422.3,479.0 L427.0,484.8 L431.6,489.5 L436.3,493.6 L441.0,497.1 L445.6,499.4 L448.6,501.1 L448.6,505.8 L449.7,510.0 L455.0,514.0 L459.6,516.9 L457.3,518.6 L450.3,515.1 L445.6,506.4 L441.0,504.1 L436.3,501.7 L431.6,499.4 L427.0,497.1 L423.5,494.7 L420.0,491.8 L416.5,488.3 L413.0,484.8 L409.5,481.3 L406.6,477.8 L404.2,474.3 L401.9,470.8 L399.6,467.3 L397.8,463.8 L396.1,463.2 L394.3,466.2 L392.6,468.5 L390.2,463.8 L388.5,459.2 L389.1,455.1 L391.4,456.2 L394.3,457.4 L397.2,457.8 L400.7,456.8 L404.2,456.2 L407.7,455.7 L410.1,453.9 L411.2,451.0 L412.4,448.1 L414.2,445.2 L415.9,442.8 L418.2,441.1Z" fill="#feb88b" class="c"/>
<path d="M470.0,211.0 L475.0,206.0 L483.8,202.2 L493.8,200.5 L507.0,199.0 L507.0,203.5 L503.8,208.5 L502.0,213.5 L505.0,218.5 L508.8,222.2 L511.2,227.2 L510.0,232.2 L513.8,237.2 L517.5,243.5 L520.0,251.0 L518.8,256.0 L512.5,258.5 L508.8,263.5 L506.2,269.8 L508.8,276.0 L505.0,281.0 L502.5,288.5 L498.8,293.5 L492.5,297.2 L486.2,299.8 L480.0,298.5 L475.0,294.8 L472.5,288.5 L470.0,284.8 L465.0,283.5 L457.5,283.5 L455.0,281.0 L453.8,276.0 L455.0,269.8 L453.8,263.5 L453.8,256.0 L455.0,248.5 L457.5,242.2 L461.2,238.5 L466.2,237.2 L470.0,239.8 L473.8,243.5 L477.5,245.5 L480.0,242.2 L480.0,234.8 L478.8,228.5 L476.2,224.8 L471.2,221.0 L469.5,216.0Z" fill="#8ad7ff" class="c"/>
<path d="M458.0,224.8 L462.5,221.0 L467.5,220.5 L468.8,223.5 L465.0,227.2 L461.2,231.0 L458.8,232.2 L457.5,229.0Z" fill="#8ad7ff" class="c"/>
<path d="M458.8,216.0 L461.2,213.0 L465.0,214.0 L464.5,218.0 L460.5,219.0Z" fill="#8ad7ff" class="c"/>
<path d="M300.5,323.1 L302.5,322.2 L304.7,324.0 L304.3,327.5 L305.6,329.2 L306.9,331.4 L304.7,333.6 L302.1,334.1 L300.5,331.0 L301.1,327.5Z" fill="#000" class="c"/>
<path d="M501.6,208.6 L505.9,207.6 L508.1,211.9 L509.2,218.4 L510.3,223.8 L507.0,224.9 L503.8,221.6 L501.6,216.2 L500.5,211.9Z" fill="#000" class="c"/>
<circle cx="242" cy="503.6" r="1.1" fill="#000"/>
<path d="M314.9,167.2 L320.0,168.0 L326.2,168.7" class="o" style="stroke:#eef8ff"/>
<path d="M311.4,179.2 L316.0,181.0 L321.0,181.9 L327.0,180.5 L333.2,179.2" class="o" style="stroke:#eef8ff"/>
<path d="M313.1,192.4 L319.0,192.8 L326.2,193.2" class="o" style="stroke:#eef8ff"/>
<path d="M315.7,200.2 L321.0,202.0" class="o" style="stroke:#eef8ff"/>
<path d="M480.0,229.0 L487.5,228.0 L493.8,230.5 L500.0,232.2 L506.2,232.2 L510.5,232.2" class="o"/>
<path d="M454.5,264.0 L462.5,259.8 L470.0,258.5 L477.5,258.5 L485.0,257.2 L490.0,258.5 L496.2,261.0 L502.5,263.0 L508.8,264.0 L512.5,259.0" class="o"/>
<g class="lab">
<text x="351.7" y="190.7" class="ld" text-anchor="middle" textLength="21.2" lengthAdjust="spacingAndGlyphs">NOR</text>
<text x="497.9" y="248" class="ld" text-anchor="middle" textLength="18.1" lengthAdjust="spacingAndGlyphs">LVA</text>
<text x="236.1" y="324.7" class="ld" text-anchor="middle" textLength="21.3" lengthAdjust="spacingAndGlyphs">GBR</text>
<text x="345.4" y="360.9" class="ld" text-anchor="middle" textLength="19.5" lengthAdjust="spacingAndGlyphs">DEU</text>
<text x="446.4" y="340.1" class="ld" text-anchor="middle" textLength="18.9" lengthAdjust="spacingAndGlyphs">POL</text>
<text x="406.2" y="385.9" class="lw" text-anchor="middle" textLength="17.9" lengthAdjust="spacingAndGlyphs">CZE</text>
<text x="261.8" y="430.8" class="ld" text-anchor="middle" textLength="18.9" lengthAdjust="spacingAndGlyphs">FRA</text>
<text x="453.8" y="426.6" class="ld" text-anchor="middle" textLength="21.2" lengthAdjust="spacingAndGlyphs">HUN</text>
<text x="520.5" y="442.5" class="ld" text-anchor="middle" textLength="21.4" lengthAdjust="spacingAndGlyphs">ROU</text>
<text x="359.2" y="471.9" class="lw" text-anchor="middle" textLength="17" lengthAdjust="spacingAndGlyphs">ITA</text>
<text x="531.2" y="499" class="ld" text-anchor="middle" textLength="21.3" lengthAdjust="spacingAndGlyphs">BGR</text>
<text x="172.5" y="535.2" class="lw" text-anchor="middle" textLength="18.6" lengthAdjust="spacingAndGlyphs">ESP</text>
<text x="495" y="559.1" class="lw" text-anchor="middle" textLength="20.4" lengthAdjust="spacingAndGlyphs">GRC</text>
<text x="646.2" y="531.6" class="ld" text-anchor="middle" textLength="20.4" lengthAdjust="spacingAndGlyphs">TUR</text>
</g>
<text class="src" x="16.2" y="653" textLength="296" lengthAdjust="spacing">Source: North Atlantic Treaty Organization</text>
<text class="src" x="16.2" y="669" textLength="151.7" lengthAdjust="spacing">Other NATO members:</text>
<rect x="176.2" y="652.3" width="94.6" height="19.8" fill="#f9b48c"/>
<text class="src" x="180" y="669" textLength="87.3" lengthAdjust="spacing" style="fill:#ead3c4">Canada 1.42%</text>
<text class="src" x="277" y="669" textLength="23" lengthAdjust="spacingAndGlyphs">and</text>
<rect x="306" y="652.3" width="73.5" height="19.8" fill="#17a6ec"/>
<text class="src" x="308.8" y="669" textLength="67.5" lengthAdjust="spacing" style="fill:#d6efff">U.S. 3.73%</text>
<text class="bb" x="643" y="675.9">Bloomberg</text>
</svg>
</body></html>
